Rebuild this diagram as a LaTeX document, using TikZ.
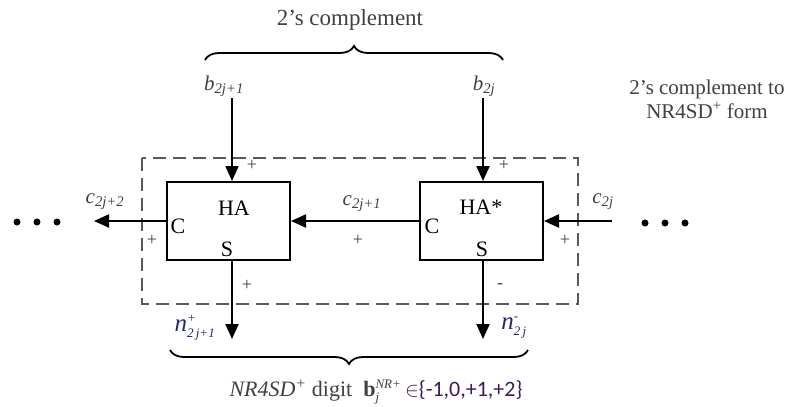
\documentclass[tikz,border=0pt]{standalone}
\usepackage{fontspec}
\setmainfont{Liberation Serif}
\newfontfamily\calib{Carlito}
\usetikzlibrary{arrows.meta,decorations.pathreplacing}
\newcommand\smf{\fontsize{13}{15}\selectfont}
\newcommand\bigf{\fontsize{22}{26}\selectfont}
\newcommand\midf{\fontsize{20}{24}\selectfont}
\newcommand\supsub[2]{\ensuremath{^{\mbox{\smf #1}}_{\mbox{\smf #2}}}}
\definecolor{txt}{gray}{0.25}
\definecolor{nblue}{rgb}{0.15,0.15,0.45}
\definecolor{setc}{rgb}{0.25,0.1,0.35}
\begin{document}
\begin{tikzpicture}[x=1pt,y=-1pt,
  blk/.style={draw=black,line width=2pt,minimum width=123pt,minimum height=78pt,inner sep=0pt},
  arr/.style={line width=2pt,-{Triangle[length=15pt,width=13pt]}},
  lbl/.style={text=txt,font=\bigf,inner sep=0pt},
  sgn/.style={text=txt,font=\fontsize{18}{20}\selectfont,inner sep=0pt},
  brc/.style={line width=1.8pt,decorate,decoration={brace,amplitude=14pt}},
  dot/.style={circle,fill=black,inner sep=0pt,minimum size=7pt}]
\useasboundingbox (0,0) rectangle (796,407);
% dashed box
\draw[line width=2.4pt,gray!70!black,dash pattern=on 13pt off 7pt] (142,158) rectangle (578,304);
% blocks
\node[blk] (ha) at (228.5,221) {};
\node[blk] (has) at (481.5,221) {};
\node[font=\bigf,inner sep=0pt] (haT) at (234,208) {HA};
\node[font=\bigf,inner sep=0pt] (haC) at (178,226) {C};
\node[font=\bigf,inner sep=0pt] (haS) at (227,249) {S};
\node[font=\bigf,inner sep=0pt] (hasT) at (481,207) {HA*};
\node[font=\bigf,inner sep=0pt] (hasC) at (432,226) {C};
\node[font=\bigf,inner sep=0pt] (hasS) at (482,249) {S};
% top labels
\node[lbl,font=\fontsize{23}{26}\selectfont] (comp) at (350,20) {2's complement};
\draw[brc] (205,60) -- (503,60);
\node[lbl,font=\fontsize{21}{24}\selectfont,anchor=base] (b1) at (224,90) {\itshape b\textsubscript{2j+1}};
\node[lbl,font=\fontsize{21}{24}\selectfont,anchor=base] (b2) at (484,90) {\itshape b\textsubscript{2j}};
\node[lbl,align=center,font=\fontsize{21}{24}\selectfont] (form) at (707,99) {2's complement to\\NR4SD\textsuperscript{+} form};
% inputs
\coordinate (t1) at (232,98);
\coordinate (t2) at (483,98);
\draw[arr] (t1) -- (t1 |- ha.north);
\draw[arr] (t2) -- (t2 |- has.north);
\node[sgn] (p1) at (252,165) {+};
\node[sgn] (p2) at (504,165) {+};
% carries
\coordinate (cl) at (94,221);
\coordinate (cr) at (612,221);
\draw[arr] (ha.west) -- (cl);
\draw[arr] (has.west) -- (ha.east);
\draw[arr] (cr) -- (has.east);
\node[lbl,font=\fontsize{21}{24}\selectfont,anchor=base] (c3) at (105,203) {\itshape c\textsubscript{2j+2}};
\node[lbl,font=\fontsize{21}{24}\selectfont,anchor=base] (c2) at (362,205) {\itshape c\textsubscript{2j+1}};
\node[lbl,font=\fontsize{21}{24}\selectfont,anchor=base] (c1) at (603,203) {\itshape c\textsubscript{2j}};
\node[sgn] (p3) at (152,240) {+};
\node[sgn] (p4) at (358,240) {+};
\node[sgn] (p5) at (565,240) {+};
% dots
\node[dot] (dl1) at (17,222) {};
\node[dot] (dl2) at (37,222) {};
\node[dot] (dl3) at (57,222) {};
\node[dot] (dr1) at (645,223) {};
\node[dot] (dr2) at (665,223) {};
\node[dot] (dr3) at (685,223) {};
% outputs
\coordinate (o1) at (232,339);
\coordinate (o2) at (483,339);
\draw[arr] (o1 |- ha.south) -- (o1);
\draw[arr] (o2 |- has.south) -- (o2);
\node[sgn] (p6) at (247,285) {+};
\node[sgn] (m1) at (500,286) {-};
\node[text=nblue,font=\fontsize{25}{28}\selectfont,inner sep=0pt] (n1) at (195,328) {\itshape n\supsub{+}{2\,j+1}};
\node[text=nblue,font=\fontsize{25}{28}\selectfont,inner sep=0pt] (n2) at (514,328) {\itshape n\supsub{-}{2\,j}};
% bottom brace
\draw[brc] (528,350) -- (170,350);
\node[lbl,font=\fontsize{22}{26}\selectfont,anchor=base] (digit) at (376,396) {\itshape NR4SD\textsuperscript{+}\upshape{} digit \ \textbf{b}\supsub{\itshape NR+}{\itshape j}\,{\color{setc}$\in$\calib\{-1,0,+1,+2\}}};
\end{tikzpicture}
\end{document}
